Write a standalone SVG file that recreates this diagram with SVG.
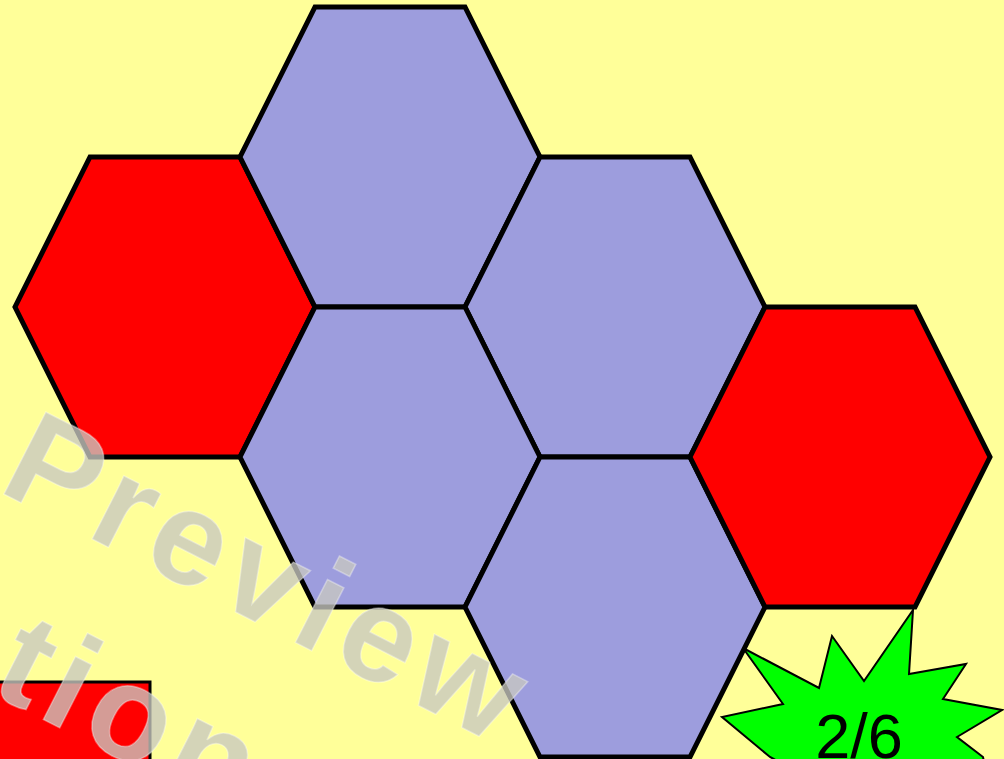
<svg xmlns="http://www.w3.org/2000/svg" width="1004" height="759" viewBox="0 0 1004 759">
<style>
.hex{stroke:#000;stroke-width:5;stroke-linejoin:miter}
.red{fill:#FF0000}
.blue{fill:#9D9DDD}
.wm{font-family:"Liberation Sans",Arial,sans-serif;font-weight:bold;font-size:134px;letter-spacing:9px;fill:#C8C8C0;fill-opacity:0.78;stroke:#FFFFFF;stroke-opacity:0.35;stroke-width:1.5}
.lbl{font-family:"Liberation Sans",Arial,sans-serif;font-size:63px;fill:#000}
</style>
<rect x="0" y="0" width="1004" height="759" fill="#FFFF99"/>
<g id="hex-red-left"><polygon class="hex red" points="90,157 240,157 315,307 240,457 90,457 15,307"/></g>
<g id="hex-top"><polygon class="hex blue" points="315,7 465,7 540,157 465,307 315,307 240,157"/></g>
<g id="hex-mid-right"><polygon class="hex blue" points="540,157 690,157 765,307 690,457 540,457 465,307"/></g>
<g id="hex-center"><polygon class="hex blue" points="315,307 465,307 540,457 465,607 315,607 240,457"/></g>
<g id="hex-bottom"><polygon class="hex blue" points="540,457 690,457 765,607 690,757 540,757 465,607"/></g>
<g id="hex-red-right"><polygon class="hex red" points="765,307 915,307 990,457 915,607 765,607 690,457"/></g>
<g id="red-rect"><rect x="-5" y="682" width="155" height="90" fill="#FF0000" stroke="#000" stroke-width="3"/></g>
<g id="connectors"></g>
<g id="badge">
<polygon points="913,610 909,674 966,664 943,699 1002,710 957,737 983,757 990,790 850,800 770,757 722,717 783,704 743,648 819,688 832,636 864,681" fill="#00FF00" stroke="#000" stroke-width="2" stroke-linejoin="miter"/>
<text class="lbl" x="859" y="758" text-anchor="middle">2/6</text>
</g>
<g id="watermark" transform="translate(-4,490) rotate(27)">
<text class="wm" x="0" y="0">Preview</text>
<text class="wm" x="0" y="183">ation</text>
</g>
</svg>
